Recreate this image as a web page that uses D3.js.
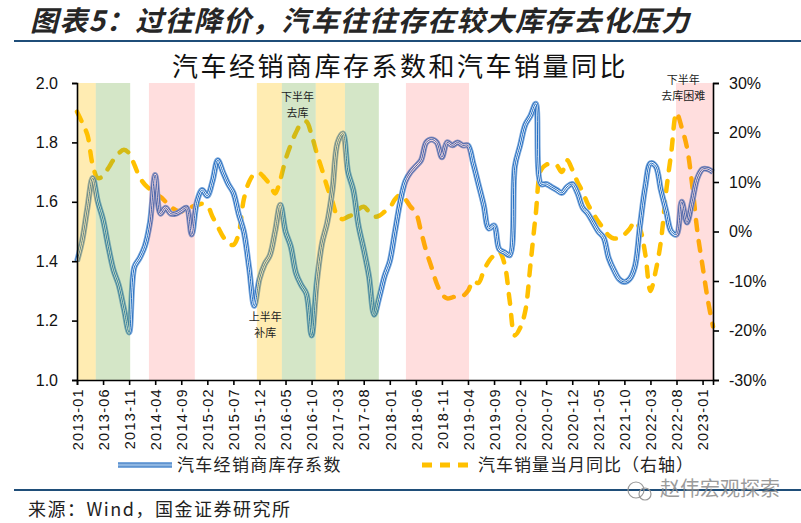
<!DOCTYPE html>
<html><head><meta charset="utf-8">
<script src="https://cdn.jsdelivr.net/npm/d3@7"></script>
<style>
body{margin:0;background:#fff;}
svg{display:block;}
</style></head>
<body>
<svg id="c" width="801" height="523"></svg>
<script>
// ---- data (monthly, 2013-01 .. 2023-03) ----
const startMonth = "2013-01";
const inventoryCoef = [
1.40,1.47,1.58,1.68,1.60,1.54,1.45,1.37,1.32,1.24,1.16,1.38,
1.41,1.45,1.53,1.69,1.56,1.58,1.56,1.56,1.57,1.58,1.49,1.60,
1.64,1.62,1.67,1.74,1.70,1.66,1.63,1.56,1.50,1.38,1.25,1.34,
1.39,1.42,1.50,1.59,1.50,1.45,1.36,1.32,1.29,1.15,1.33,1.46,
1.53,1.64,1.80,1.83,1.70,1.64,1.52,1.44,1.35,1.22,1.28,1.35,
1.40,1.50,1.60,1.67,1.70,1.72,1.74,1.80,1.81,1.80,1.75,1.80,
1.79,1.80,1.79,1.79,1.73,1.66,1.59,1.51,1.52,1.44,1.43,1.42,
1.72,1.79,1.86,1.89,1.93,1.66,1.66,1.65,1.64,1.63,1.65,1.66,
1.63,1.58,1.56,1.53,1.50,1.48,1.41,1.37,1.34,1.33,1.34,1.38,
1.52,1.65,1.73,1.72,1.64,1.57,1.50,1.49,1.60,1.53,1.60,1.68,
1.71,1.71,1.70];
const salesYoY = [
24.2,22.0,19.5,13.5,10.8,11.2,12.8,14.5,15.8,16.5,15.8,13.5,
11.0,9.5,8.5,7.5,7.0,6.0,5.0,4.3,4.0,4.8,5.0,5.3,
5.6,5.2,3.0,1.0,-1.0,-2.4,-2.7,-0.5,6.5,10.0,11.6,11.8,
10.8,9.5,7.7,10.5,14.5,17.5,20.0,21.8,22.2,19.5,15.8,12.5,
9.0,6.0,3.0,2.5,3.0,3.5,4.5,5.0,4.0,3.0,3.2,4.0,
4.8,6.5,7.4,6.5,5.0,3.8,0.0,-4.0,-7.2,-10.5,-12.7,-13.5,
-13.3,-13.0,-13.0,-12.0,-10.0,-10.4,-8.0,-6.0,-4.8,-4.1,-6.5,-14.0,
-21.0,-19.5,-16.0,-6.5,3.5,12.4,13.5,13.6,13.4,12.0,14.4,12.5,
10.0,8.0,5.5,3.7,2.0,0.6,-0.8,-1.4,-1.3,-0.6,0.5,2.0,
0.5,-4.5,-12.0,-8.0,-2.0,8.0,16.0,24.0,21.0,17.0,9.5,0.0,
-7.0,-13.8,-19.2];
const tickLabels = ["2013-01","2013-06","2013-11","2014-04","2014-09","2015-02","2015-07","2015-12",
"2016-05","2016-10","2017-03","2017-08","2018-01","2018-06","2018-11","2019-04","2019-09",
"2020-02","2020-07","2020-12","2021-05","2021-10","2022-03","2022-08","2023-01"];
const leftTicks = [1.0,1.2,1.4,1.6,1.8,2.0];
const rightTicks = [-30,-20,-10,0,10,20,30];
// shaded periods, in month index from 2013-01
const bandStart = [0, 3.6, 13.8, 34.5, 39.3, 45.8, 51.4, 63.1, 114.9];
const bandEnd   = [3.6, 10.2, 22.6, 39.3, 45.8, 51.4, 57.9, 75.2, 122];
const bandType  = ["y","g","p","y","g","y","g","p","p"];
const notes = [
  {m:42.3, v:1.94, lines:["下半年","去库"]},
  {m:36.1, v:1.20, lines:["上半年","补库"]},
  {m:116.3, v:1.995, lines:["下半年","去库困难"]}
];
const mainTitle = "图表5：过往降价，汽车往往存在较大库存去化压力";
const chartTitle = "汽车经销商库存系数和汽车销量同比";
const seriesNames = ["汽车经销商库存系数","汽车销量当月同比（右轴）"];
const sourceText = "来源：Wind，国金证券研究所";

// ---- drawing ----
const svg = d3.select("#c");
const L=77, R=713, T=83, B=380;
const x = d3.scaleLinear().domain([0, inventoryCoef.length-1]).range([L,R]);
const yL = d3.scaleLinear().domain([1.0,2.0]).range([B,T]);
const yR = d3.scaleLinear().domain([-30,30]).range([B,T]);
const cjk = "'Noto Sans CJK SC','Noto Sans',sans-serif";

// title
svg.append("text").attr("x",30).attr("y",31).text(mainTitle)
  .attr("font-family",cjk).attr("font-size",28).attr("font-weight","bold")
  .attr("letter-spacing",1.2)
  .attr("font-style","italic").attr("fill","#262626");
svg.append("line").attr("x1",14).attr("x2",801).attr("y1",41).attr("y2",41)
  .attr("stroke","#1f4e79").attr("stroke-width",2);
svg.append("text").attr("x",400).attr("y",76).attr("text-anchor","middle").text(chartTitle)
  .attr("font-family",cjk).attr("font-size",26).attr("letter-spacing",2.5).attr("fill","#111");

// lines
const gLines = svg.append("g");
const lineL = d3.line().x((d,i)=>x(i)).y(d=>yL(d)).curve(d3.curveCatmullRom.alpha(0.5));
const lineR = d3.line().x((d,i)=>x(i)).y(d=>yR(d)).curve(d3.curveCatmullRom.alpha(0.5));
gLines.append("path").datum(salesYoY).attr("d",lineR).attr("fill","none")
  .attr("stroke","#FFC000").attr("stroke-width",4.5).attr("stroke-dasharray","10,11")
  .attr("stroke-linecap","round");
function blueLine(g, d){
  g.append("path").attr("d",d).attr("fill","none").attr("stroke","#7aa8dc").attr("stroke-width",6.0).attr("stroke-linejoin","round");
  g.append("path").attr("d",d).attr("fill","none").attr("stroke","#2a6fbf").attr("stroke-width",4.2).attr("stroke-linejoin","round");
  g.append("path").attr("d",d).attr("fill","none").attr("stroke","#ffffff").attr("stroke-width",2.4).attr("stroke-linejoin","round");
  g.append("path").attr("d",d).attr("fill","none").attr("stroke","#1c6cc4").attr("stroke-width",1.0).attr("stroke-linejoin","round");
}
blueLine(gLines, lineL(inventoryCoef));

// bands (semi-transparent overlays)
const bandFill = {y:"rgba(255,192,0,0.30)", g:"rgba(112,173,71,0.30)", p:"rgba(255,60,60,0.17)"};
svg.append("g").selectAll("rect").data(bandStart).join("rect")
  .attr("x",(d)=>x(d)).attr("width",(d,i)=>x(bandEnd[i])-x(d))
  .attr("y",T).attr("height",B-T).attr("fill",(d,i)=>bandFill[bandType[i]]);

// axes
const ticksIdx = tickLabels.map((t,i)=>i*5);
const ax = svg.append("g").attr("transform",`translate(0,${B})`)
  .call(d3.axisBottom(x).tickValues(ticksIdx).tickFormat((d,i)=>tickLabels[i]).tickSizeOuter(0).tickSize(5));
ax.select(".domain").attr("stroke","#000").attr("stroke-width",1.6);
ax.selectAll(".tick line").attr("stroke","#000").attr("stroke-width",1.6);
ax.selectAll(".tick text").attr("font-family","Arial, 'Liberation Sans', sans-serif").attr("font-size",14.5)
  .attr("letter-spacing",1.3).attr("fill","#111")
  .attr("text-anchor","end").attr("transform","rotate(-90)").attr("x",-8).attr("y",0).attr("dy","0.36em");

const ayl = svg.append("g").attr("transform",`translate(${L},0)`)
  .call(d3.axisLeft(yL).tickValues(leftTicks).tickFormat(d3.format(".1f")).tickSizeOuter(0).tickSize(5));
ayl.select(".domain").attr("stroke","#000").attr("stroke-width",1.6);
ayl.selectAll(".tick line").attr("stroke","#000").attr("stroke-width",1.6);
ayl.selectAll(".tick text").attr("font-family","Arial, 'Liberation Sans', sans-serif").attr("font-size",16).attr("fill","#111").attr("x",-19);

const ayr = svg.append("g").attr("transform",`translate(${R},0)`)
  .call(d3.axisRight(yR).tickValues(rightTicks).tickFormat(d=>d+"%").tickSizeOuter(0).tickSize(6));
ayr.select(".domain").attr("stroke","#000").attr("stroke-width",1.6);
ayr.selectAll(".tick line").attr("stroke","#000").attr("stroke-width",1.6);
ayr.selectAll(".tick text").attr("font-family","Arial, 'Liberation Sans', sans-serif").attr("font-size",16).attr("fill","#111").attr("x",16);

// annotations
notes.forEach(n=>{
  const t = svg.append("text").attr("text-anchor","middle").attr("font-family",cjk)
    .attr("font-size",11).attr("fill","#222");
  n.lines.forEach((s,k)=>t.append("tspan").attr("x",x(n.m)).attr("y",yL(n.v)+k*16).text(s));
});

// legend
const lg = svg.append("g");
const ly = 465;
blueLine(lg, `M118,${ly}L172,${ly}`);
lg.append("text").attr("x",177).attr("y",ly+6).text(seriesNames[0]).attr("font-family",cjk).attr("font-size",17).attr("letter-spacing",1.3).attr("fill","#222");
lg.append("path").attr("d",`M422,${ly}L470,${ly}`).attr("stroke","#FFC000").attr("stroke-width",5)
  .attr("stroke-dasharray","10,8").attr("fill","none");
lg.append("text").attr("x",478).attr("y",ly+6).text(seriesNames[1]).attr("font-family",cjk).attr("font-size",17).attr("letter-spacing",1.0).attr("fill","#222");

// bottom
svg.append("line").attr("x1",14).attr("x2",801).attr("y1",490).attr("y2",490)
  .attr("stroke","#1f4e79").attr("stroke-width",2);
svg.append("text").attr("x",28).attr("y",516).text(sourceText).attr("font-family",cjk).attr("font-size",18).attr("letter-spacing",1.5).attr("fill","#222");
// watermark
svg.append("text").attr("x",660).attr("y",496).text("赵伟宏观探索").attr("font-family",cjk).attr("font-size",20).attr("fill","#8a8a8a").attr("opacity",0.85);
svg.append("circle").attr("cx",636).attr("cy",490).attr("r",8).attr("fill","none").attr("stroke","#999").attr("stroke-width",1.2);
svg.append("circle").attr("cx",645).attr("cy",494).attr("r",6).attr("fill","none").attr("stroke","#999").attr("stroke-width",1.2);
</script>
</body></html>
